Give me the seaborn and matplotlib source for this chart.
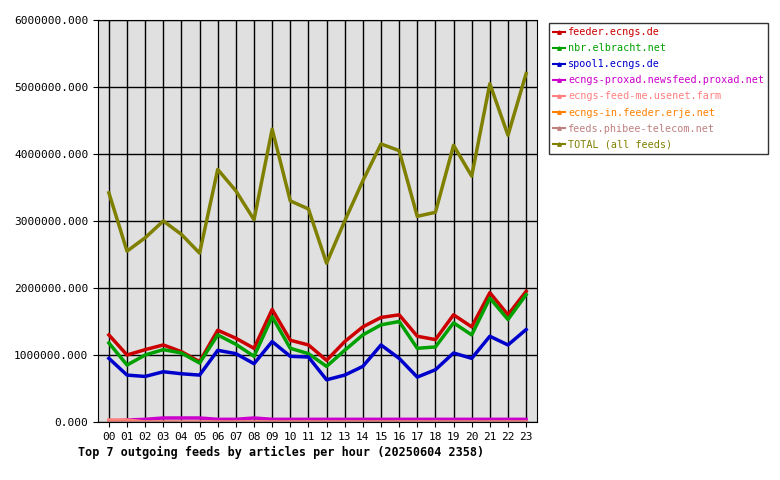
import matplotlib
matplotlib.use("Agg")
from matplotlib import pyplot as plt
import seaborn as sns
import pandas as pd

hours = [f"{h:02d}" for h in range(24)]

# values in articles per hour
feeder = [1.30, 1.00, 1.08, 1.15, 1.05, 0.90, 1.37, 1.25, 1.10, 1.68, 1.22, 1.15,
          0.92, 1.20, 1.42, 1.56, 1.60, 1.28, 1.23, 1.60, 1.42, 1.93, 1.60, 1.95]
nbr = [1.18, 0.85, 1.00, 1.08, 1.03, 0.88, 1.30, 1.16, 0.98, 1.57, 1.10, 1.02,
       0.83, 1.07, 1.30, 1.45, 1.50, 1.10, 1.12, 1.48, 1.30, 1.85, 1.53, 1.90]
spool1 = [0.95, 0.70, 0.68, 0.75, 0.72, 0.70, 1.07, 1.02, 0.87, 1.20, 0.98, 0.97,
          0.63, 0.70, 0.83, 1.15, 0.95, 0.67, 0.78, 1.03, 0.95, 1.28, 1.15, 1.38]
proxad = [0.0, 0.03, 0.04, 0.06, 0.06, 0.06, 0.04, 0.04, 0.06, 0.04, 0.04, 0.04,
          0.04, 0.04, 0.04, 0.04, 0.04, 0.04, 0.04, 0.04, 0.04, 0.04, 0.04, 0.04]
usenet_farm = [0.03, 0.03] + [0.0] * 22
erje = [0.0] * 24
phibee = [0.0] * 24
total = [3.42, 2.55, 2.75, 3.00, 2.80, 2.52, 3.77, 3.45, 3.02, 4.37, 3.30, 3.18,
         2.37, 3.00, 3.60, 4.15, 4.05, 3.07, 3.13, 4.13, 3.67, 5.05, 4.28, 5.20]

series = [
    ("feeder.ecngs.de", feeder, "#cc0000"),
    ("nbr.elbracht.net", nbr, "#00a000"),
    ("spool1.ecngs.de", spool1, "#0000cc"),
    ("ecngs-proxad.newsfeed.proxad.net", proxad, "#cc00cc"),
    ("ecngs-feed-me.usenet.farm", usenet_farm, "#ff8080"),
    ("ecngs-in.feeder.erje.net", erje, "#ff8000"),
    ("feeds.phibee-telecom.net", phibee, "#c08080"),
    ("TOTAL (all feeds)", total, "#808000"),
]

rows = []
for name, vals, _ in series:
    for i, v in enumerate(vals):
        rows.append({"hour": i, "value": v * 1e6, "feed": name})
df = pd.DataFrame(rows)

plt.rcParams["font.family"] = "DejaVu Sans Mono"
fig = plt.figure(figsize=(7.8, 4.8), dpi=100)
ax = fig.add_axes([98 / 780, 58 / 480, 439 / 780, 402 / 480])
ax.set_facecolor("#e0e0e0")

sns.lineplot(data=df, x="hour", y="value", hue="feed",
             palette={n: c for n, _, c in series}, hue_order=[n for n, _, _ in series],
             linewidth=2.5, ax=ax, legend=False)

ax.set_xlim(-0.6, 23.6)
ax.set_ylim(0, 6e6)
ax.set_xticks(range(24))
ax.set_xticklabels(hours, fontsize=8)
ax.set_yticks([i * 1e6 for i in range(7)])
ax.set_yticklabels([f"{i * 1000000}.000" if i else "0.000" for i in range(7)], fontsize=8)
ax.grid(True, color="black", linewidth=1)
ax.set_axisbelow(True)
ax.set_xlabel("")
ax.set_ylabel("")
for s in ax.spines.values():
    s.set_color("black")

fig.text(78 / 780, 1 - 452 / 480, "Top 7 outgoing feeds by articles per hour (20250604 2358)",
         fontsize=8.5, fontweight="bold", va="center")

# legend box
handles = [plt.Line2D([], [], color=c, linewidth=1.5, marker="^", markersize=2.5)
           for _, _, c in series]
leg = fig.legend(handles, [n for n, _, _ in series], loc="upper left",
                 bbox_to_anchor=(544 / 780, 1 - 18 / 480), fontsize=7.3,
                 frameon=True, fancybox=False, edgecolor="black",
                 handlelength=1.2, labelspacing=0.6, borderpad=0.4, handletextpad=0.3)
for t, (_, _, c) in zip(leg.get_texts(), series):
    t.set_color(c)

fig.savefig("out.png", dpi=100)
